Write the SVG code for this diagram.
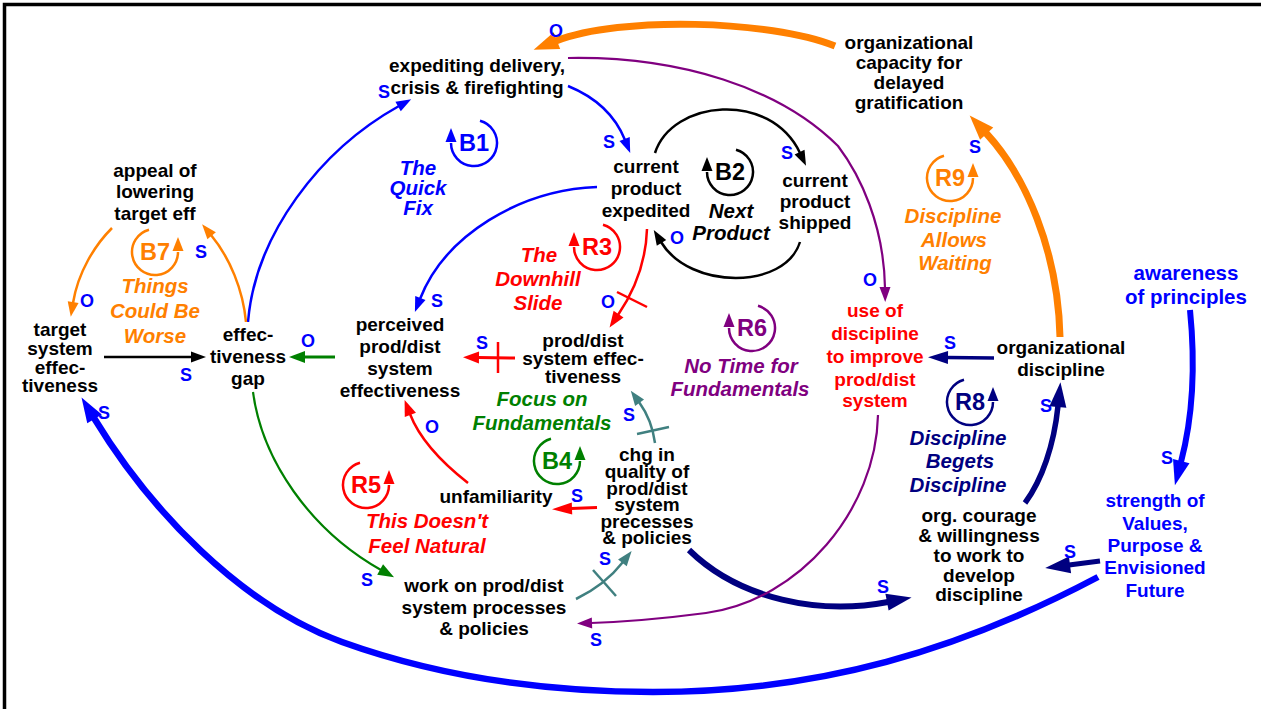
<svg xmlns="http://www.w3.org/2000/svg" width="1261" height="709" viewBox="0 0 1261 709">
<style>
text{font-family:"Liberation Sans",Arial,Helvetica,sans-serif;font-weight:bold;text-anchor:middle}
.n{font-size:19px;fill:#000}
.red{fill:#ff0000}
.blu{fill:#0000ff}
.lbl{font-size:20.5px;font-style:italic}
.pol{font-size:18px;fill:#0000ff}
.lid{font-size:23.5px}
.c{fill:none}
.tick{fill:none}
</style>
<defs>
  <!-- arrowheads: S small, M medium, L large -->
  <marker id="aBlueS" markerUnits="userSpaceOnUse" orient="auto" refX="1" refY="0" markerWidth="30" markerHeight="30" overflow="visible"><path d="M0,-5.5 L15,0 L0,5.5Z" fill="#0000ff"/></marker>
  <marker id="aBlueL" markerUnits="userSpaceOnUse" orient="auto" refX="1" refY="0" markerWidth="30" markerHeight="30" overflow="visible"><path d="M0,-8.5 L25,0 L0,8.5Z" fill="#0000ff"/></marker>
  <marker id="aBlackS" markerUnits="userSpaceOnUse" orient="auto" refX="1" refY="0" markerWidth="30" markerHeight="30" overflow="visible"><path d="M0,-5.5 L15,0 L0,5.5Z" fill="#000"/></marker>
  <marker id="aRedS" markerUnits="userSpaceOnUse" orient="auto" refX="1" refY="0" markerWidth="30" markerHeight="30" overflow="visible"><path d="M0,-6 L16,0 L0,6Z" fill="#ff0000"/></marker>
  <marker id="aRedM" markerUnits="userSpaceOnUse" orient="auto" refX="1" refY="0" markerWidth="30" markerHeight="30" overflow="visible"><path d="M0,-6 L20,0 L0,6Z" fill="#ff0000"/></marker>
  <marker id="aGreenS" markerUnits="userSpaceOnUse" orient="auto" refX="1" refY="0" markerWidth="30" markerHeight="30" overflow="visible"><path d="M0,-6 L16,0 L0,6Z" fill="#008000"/></marker>
  <marker id="aOrangeS" markerUnits="userSpaceOnUse" orient="auto" refX="1" refY="0" markerWidth="30" markerHeight="30" overflow="visible"><path d="M0,-5.5 L15,0 L0,5.5Z" fill="#ff8000"/></marker>
  <marker id="aOrangeL" markerUnits="userSpaceOnUse" orient="auto" refX="1" refY="0" markerWidth="30" markerHeight="30" overflow="visible"><path d="M0,-9 L25,0 L0,9Z" fill="#ff8000"/></marker>
  <marker id="aPurpleS" markerUnits="userSpaceOnUse" orient="auto" refX="1" refY="0" markerWidth="30" markerHeight="30" overflow="visible"><path d="M0,-5.5 L15,0 L0,5.5Z" fill="#800080"/></marker>
  <marker id="aTealS" markerUnits="userSpaceOnUse" orient="auto" refX="1" refY="0" markerWidth="30" markerHeight="30" overflow="visible"><path d="M0,-5.5 L15,0 L0,5.5Z" fill="#408080"/></marker>
  <marker id="aNavyM" markerUnits="userSpaceOnUse" orient="auto" refX="1" refY="0" markerWidth="30" markerHeight="30" overflow="visible"><path d="M0,-6.5 L20,0 L0,6.5Z" fill="#000080"/></marker>
  <marker id="aNavyL" markerUnits="userSpaceOnUse" orient="auto" refX="1" refY="0" markerWidth="30" markerHeight="30" overflow="visible"><path d="M0,-8.5 L25,0 L0,8.5Z" fill="#000080"/></marker>
  <!-- loop symbol: circular arrow, arrowhead on the left pointing up -->
  <g id="loopIcon">
    <path d="M6,-22.2 A23,23 0 1 1 -23,0" fill="none" stroke="currentColor" stroke-width="2.5"/>
    <path d="M-23,-15 L-28.5,-1 L-17.5,-1Z" fill="currentColor"/>
  </g>
</defs>

<rect width="1261" height="709" fill="#fff"/>
<path d="M4.5,709 V4.5 H1261" fill="none" stroke="#000" stroke-width="3.5"/>

<g id="connectors">
  <path class="c" d="M835,46 C770,20 620,16 556,41" stroke="#ff8000" stroke-width="7" marker-end="url(#aOrangeL)"/>
  <path class="c" d="M568,58 C680,56 780,88 838,146 C860,175 884,225 885,288" stroke="#800080" stroke-width="2.2" marker-end="url(#aPurpleS)"/>
  <path class="c" d="M248,322 C255,235 320,150 399,106" stroke="#0000ff" stroke-width="2.5" marker-end="url(#aBlueS)"/>
  <path class="c" d="M568,86 C595,97 615,115 625,140" stroke="#0000ff" stroke-width="2.5" marker-end="url(#aBlueS)"/>
  <path class="c" d="M655,153 C672,100 770,90 800,153" stroke="#000" stroke-width="2.5" marker-end="url(#aBlackS)"/>
  <path class="c" d="M800,242 C785,290 690,290 661,242" stroke="#000" stroke-width="2.5" marker-end="url(#aBlackS)"/>
  <path class="c" d="M597,187 C520,190 445,235 420,299" stroke="#0000ff" stroke-width="2.5" marker-end="url(#aBlueS)"/>
  <path class="c" d="M647,229 C646,260 635,290 618,315" stroke="#ff0000" stroke-width="2.5" marker-end="url(#aRedS)"/>
  <path class="tick" d="M617,292 L647,307" stroke="#ff0000" stroke-width="2.5"/>
  <path class="c" d="M515,358 L478,357.5" stroke="#ff0000" stroke-width="3" marker-end="url(#aRedS)"/>
  <path class="tick" d="M498,342 V373" stroke="#ff0000" stroke-width="2.5"/>
  <path class="c" d="M335,357 L304,357" stroke="#008000" stroke-width="3" marker-end="url(#aGreenS)"/>
  <path class="c" d="M104,357 L192,357" stroke="#000" stroke-width="2.5" marker-end="url(#aBlackS)"/>
  <path class="c" d="M246,322 C243,290 230,258 211,235" stroke="#ff8000" stroke-width="2.5" marker-end="url(#aOrangeS)"/>
  <path class="c" d="M112,228 C95,245 78,272 73,303" stroke="#ff8000" stroke-width="2.5" marker-end="url(#aOrangeS)"/>
  <path class="c" d="M1098,577 C960,650 820,692 653,692 C520,692 420,670 342,642 C240,605 150,510 94,418" stroke="#0000ff" stroke-width="6.5" marker-end="url(#aBlueL)"/>
  <path class="c" d="M1190,310 C1196,370 1192,420 1181,462" stroke="#0000ff" stroke-width="6" marker-end="url(#aBlueL)"/>
  <path class="c" d="M1100,561 L1069,565" stroke="#000080" stroke-width="5" marker-end="url(#aNavyL)"/>
  <path class="c" d="M689,550 C740,600 820,615 888,602" stroke="#000080" stroke-width="6" marker-end="url(#aNavyL)"/>
  <path class="c" d="M1025,503 C1042,480 1054,445 1058,406" stroke="#000080" stroke-width="5.5" marker-end="url(#aNavyL)"/>
  <path class="c" d="M994,358 L947,357.5" stroke="#000080" stroke-width="3.5" marker-end="url(#aNavyM)"/>
  <path class="c" d="M1060,337 C1058,250 1025,175 986,133" stroke="#ff8000" stroke-width="7" marker-end="url(#aOrangeL)"/>
  <path class="c" d="M878,415 C876,510 800,600 706,613 C660,619 620,622 591,623" stroke="#800080" stroke-width="2.2" marker-end="url(#aPurpleS)"/>
  <path class="c" d="M576,599 Q605,585 623,562" stroke="#408080" stroke-width="2.5" marker-end="url(#aTealS)"/>
  <path class="tick" d="M593,570 L616,596" stroke="#408080" stroke-width="2.5"/>
  <path class="c" d="M655,443 Q652,420 639,402" stroke="#408080" stroke-width="2.5" marker-end="url(#aTealS)"/>
  <path class="tick" d="M637,434 L669,427" stroke="#408080" stroke-width="2.5"/>
  <path class="c" d="M597,507.5 L571,508.5" stroke="#ff0000" stroke-width="3" marker-end="url(#aRedM)"/>
  <path class="c" d="M468,483 C445,465 420,440 410,414" stroke="#ff0000" stroke-width="2.5" marker-end="url(#aRedS)"/>
  <path class="c" d="M253,392 C262,460 310,530 381,570" stroke="#008000" stroke-width="2.2" marker-end="url(#aGreenS)"/>

  <!-- link polarities -->
  <text class="pol" x="556" y="37.4">O</text>
  <text class="pol" x="384" y="98.4">S</text>
  <text class="pol" x="609" y="148.4">S</text>
  <text class="pol" x="787" y="159.4">S</text>
  <text class="pol" x="201" y="258.4">S</text>
  <text class="pol" x="87" y="307.4">O</text>
  <text class="pol" x="186" y="381.4">S</text>
  <text class="pol" x="308" y="347.4">O</text>
  <text class="pol" x="104" y="419.4">S</text>
  <text class="pol" x="437" y="307.4">S</text>
  <text class="pol" x="608" y="308.4">O</text>
  <text class="pol" x="482" y="349.4">S</text>
  <text class="pol" x="432" y="433.4">O</text>
  <text class="pol" x="629" y="421.4">S</text>
  <text class="pol" x="577" y="502.4">S</text>
  <text class="pol" x="605" y="565.4">S</text>
  <text class="pol" x="367" y="586.4">S</text>
  <text class="pol" x="596" y="646.4">S</text>
  <text class="pol" x="883" y="593.4">S</text>
  <text class="pol" x="1070" y="558.4">S</text>
  <text class="pol" x="1167" y="464.4">S</text>
  <text class="pol" x="1046" y="412.4">S</text>
  <text class="pol" x="950" y="349.4">S</text>
  <text class="pol" x="870" y="286.4">O</text>
  <text class="pol" x="975" y="153.4">S</text>
  <text class="pol" x="677" y="244.4">O</text>
</g>

<g id="loops">
  <g id="loop-B1"><use href="#loopIcon" transform="translate(474,143)" color="#0000ff"/><text class="lid blu" x="474" y="151.4">B1</text>
    <text class="lbl blu" x="418" y="175">The</text><text class="lbl blu" x="418" y="195">Quick</text><text class="lbl blu" x="418" y="215">Fix</text></g>
  <g id="loop-B2"><use href="#loopIcon" transform="translate(730,172)" color="#000"/><text class="lid" x="730" y="180.4">B2</text>
    <text class="lbl" x="731" y="218">Next</text><text class="lbl" x="731" y="240">Product</text></g>
  <g id="loop-R3"><use href="#loopIcon" transform="translate(597,247)" color="#ff0000"/><text class="lid red" x="597" y="255.4">R3</text>
    <text class="lbl red" x="539" y="262">The</text><text class="lbl red" x="538" y="286">Downhill</text><text class="lbl red" x="538" y="310">Slide</text></g>
  <g id="loop-R6"><use href="#loopIcon" transform="translate(752,328)" color="#800080"/><text class="lid" fill="#800080" x="752" y="336.4">R6</text>
    <text class="lbl" fill="#800080" x="741" y="373">No Time for</text><text class="lbl" fill="#800080" x="740" y="396">Fundamentals</text></g>
  <g id="loop-B7"><use href="#loopIcon" transform="translate(155,252) scale(-1,1)" color="#ff8000"/><text class="lid" fill="#ff8000" x="155" y="260.4">B7</text>
    <text class="lbl" fill="#ff8000" x="155" y="293">Things</text><text class="lbl" fill="#ff8000" x="155" y="318">Could Be</text><text class="lbl" fill="#ff8000" x="155" y="343">Worse</text></g>
  <g id="loop-B4"><use href="#loopIcon" transform="translate(557,461) scale(-1,1)" color="#008000"/><text class="lid" fill="#008000" x="557" y="469.4">B4</text>
    <text class="lbl" fill="#008000" x="542" y="406">Focus on</text><text class="lbl" fill="#008000" x="542" y="430">Fundamentals</text></g>
  <g id="loop-R5"><use href="#loopIcon" transform="translate(366,485) scale(-1,1)" color="#ff0000"/><text class="lid red" x="366" y="493.4">R5</text>
    <text class="lbl red" x="427" y="528">This Doesn't</text><text class="lbl red" x="427" y="553">Feel Natural</text></g>
  <g id="loop-R8"><use href="#loopIcon" transform="translate(970,402) scale(-1,1)" color="#000080"/><text class="lid" fill="#000080" x="970" y="410.4">R8</text>
    <text class="lbl" fill="#000080" x="958" y="445">Discipline</text><text class="lbl" fill="#000080" x="960" y="468">Begets</text><text class="lbl" fill="#000080" x="958" y="491.5">Discipline</text></g>
  <g id="loop-R9"><use href="#loopIcon" transform="translate(950,178) scale(-1,1)" color="#ff8000"/><text class="lid" fill="#ff8000" x="950" y="186.4">R9</text>
    <text class="lbl" fill="#ff8000" x="953" y="223">Discipline</text><text class="lbl" fill="#ff8000" x="954" y="246.5">Allows</text><text class="lbl" fill="#ff8000" x="955" y="270">Waiting</text></g>
</g>

<g id="n-expediting"><text class="n" x="477" y="72">expediting delivery,</text><text class="n" x="477" y="94">crisis &amp; firefighting</text></g>
<g id="n-capacity"><text class="n" x="909" y="49">organizational</text><text class="n" x="909" y="69">capacity for</text><text class="n" x="909" y="89">delayed</text><text class="n" x="909" y="109">gratification</text></g>
<g id="n-expedited"><text class="n" x="646" y="173">current</text><text class="n" x="646" y="195">product</text><text class="n" x="646" y="217">expedited</text></g>
<g id="n-shipped"><text class="n" x="815" y="187">current</text><text class="n" x="815" y="208">product</text><text class="n" x="815" y="229">shipped</text></g>
<g id="n-appeal"><text class="n" x="155" y="177">appeal of</text><text class="n" x="155" y="198">lowering</text><text class="n" x="155" y="220">target eff</text></g>
<g id="n-target"><text class="n" x="60" y="336">target</text><text class="n" x="60" y="354.5">system</text><text class="n" x="60" y="373.5">effec-</text><text class="n" x="60" y="392">tiveness</text></g>
<g id="n-gap"><text class="n" x="248" y="341">effec-</text><text class="n" x="248" y="363">tiveness</text><text class="n" x="248" y="385">gap</text></g>
<g id="n-perceived"><text class="n" x="400" y="331">perceived</text><text class="n" x="400" y="353">prod/dist</text><text class="n" x="400" y="375">system</text><text class="n" x="400" y="397">effectiveness</text></g>
<g id="n-effectiveness"><text class="n" x="583" y="347">prod/dist</text><text class="n" x="583" y="364.5">system effec-</text><text class="n" x="583" y="383">tiveness</text></g>
<g id="n-unfamiliarity"><text class="n" x="496" y="503">unfamiliarity</text></g>
<g id="n-chg-quality"><text class="n" x="647" y="461">chg in</text><text class="n" x="647" y="478">quality of</text><text class="n" x="647" y="494.5">prod/dist</text><text class="n" x="647" y="511">system</text><text class="n" x="647" y="527.5">precesses</text><text class="n" x="647" y="544">&amp; policies</text></g>
<g id="n-work"><text class="n" x="484" y="592">work on prod/dist</text><text class="n" x="484" y="613.5">system processes</text><text class="n" x="484" y="635">&amp; policies</text></g>
<g id="n-use-discipline"><text class="n red" x="875" y="317">use of</text><text class="n red" x="875" y="339.5">discipline</text><text class="n red" x="875" y="362.5">to improve</text><text class="n red" x="875" y="385.5">prod/dist</text><text class="n red" x="875" y="407">system</text></g>
<g id="n-org-discipline"><text class="n" x="1061" y="354">organizational</text><text class="n" x="1061" y="376">discipline</text></g>
<g id="n-courage"><text class="n" x="979" y="522">org. courage</text><text class="n" x="979" y="542">&amp; willingness</text><text class="n" x="979" y="562">to work to</text><text class="n" x="979" y="582">develop</text><text class="n" x="979" y="601">discipline</text></g>
<g id="n-awareness"><text class="n blu" style="font-size:20.5px" x="1186" y="280">awareness</text><text class="n blu" style="font-size:20.5px" x="1186" y="304">of principles</text></g>
<g id="n-values"><text class="n blu" x="1155" y="507">strength of</text><text class="n blu" x="1155" y="529.5">Values,</text><text class="n blu" x="1155" y="552">Purpose &amp;</text><text class="n blu" x="1155" y="574">Envisioned</text><text class="n blu" x="1155" y="597">Future</text></g>
</svg>
